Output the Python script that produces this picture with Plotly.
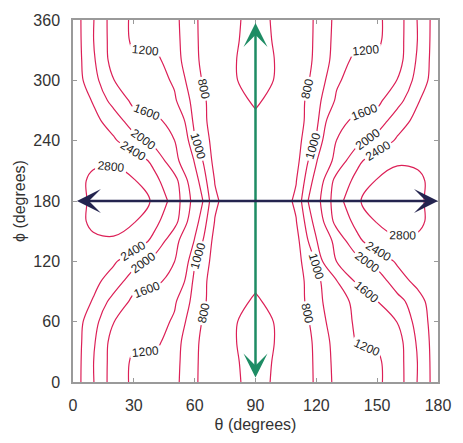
import plotly.graph_objects as go

# Grid nodes of the computed map
theta_nodes = [0, 10, 20, 30, 40, 50, 60, 70, 80, 90, 100, 110, 120, 130, 140,
               150, 160, 170, 180]
phi_nodes = [0, 20, 40, 60, 80, 100, 120, 140, 160, 180, 200, 220, 240, 260,
             280, 300, 320, 340, 360]

# Lower-left block: rows phi = 0..180, columns theta = 0..90
z_lower_left = [
    [2643, 2020, 1402, 1129, 1090, 1058, 815, 720, 742, 950],    # phi = 0
    [2660, 2010, 1416, 1139, 1150, 1070, 818, 715, 755, 980],    # phi = 20
    [2656, 2060, 1430, 1250, 1260, 1089, 827, 700, 785, 1000],   # phi = 40
    [2656, 2144, 1610, 1400, 1300, 1170, 860, 690, 778, 960],    # phi = 60
    [2660, 2371, 1841, 1515, 1380, 1230, 930, 700, 737, 830],    # phi = 80
    [2650, 2500, 2237, 1750, 1700, 1450, 950, 700, 720, 760],    # phi = 100
    [2650, 2620, 2450, 2172, 1859, 1605, 1020, 720, 700, 700],   # phi = 120
    [2620, 2720, 2760, 2600, 2314, 1720, 1180, 730, 680, 660],   # phi = 140
    [2620, 2897, 2920, 2830, 2500, 2150, 1300, 790, 650, 620],   # phi = 160
    [2600, 2890, 2950, 2930, 2767, 2219, 1450, 840, 640, 600],   # phi = 180
]

# Lower-right block: rows phi = 0..180, columns theta = 90..180
z_lower_right = [
    [950, 742, 720, 815, 1058, 1090, 1129, 1402, 2020, 2643],    # phi = 0
    [980, 755, 715, 818, 1070, 1150, 1139, 1416, 2010, 2660],    # phi = 20
    [1000, 785, 700, 827, 1089, 1210, 1250, 1430, 2060, 2656],   # phi = 40
    [960, 778, 690, 860, 1150, 1215, 1400, 1610, 2144, 2656],    # phi = 60
    [830, 737, 700, 930, 1150, 1230, 1595, 1841, 2250, 2660],    # phi = 80
    [760, 720, 700, 950, 1180, 1660, 1750, 2237, 2500, 2650],    # phi = 100
    [700, 700, 720, 1020, 1605, 1859, 2172, 2450, 2620, 2650],   # phi = 120
    [660, 680, 730, 1180, 1720, 2314, 2600, 2760, 2720, 2620],   # phi = 140
    [620, 650, 790, 1300, 2150, 2500, 2830, 2920, 2897, 2620],   # phi = 160
    [600, 640, 840, 1450, 2219, 2767, 2930, 2950, 2890, 2600],   # phi = 180
]

# Contour levels
levels = [800, 1000, 1200, 1600, 2000, 2400, 2800]

x_ticks = [0, 30, 60, 90, 120, 150, 180]
y_ticks = [0, 60, 120, 180, 240, 300, 360]

# Scan directions drawn as double arrows
theta_scan = dict(theta=(1.2, 180), phi=180)
phi_scan = dict(theta=90, phi=(3, 357))

# Assemble the full map: the upper half (phi > 180) is the point reflection
# of the lower-left block through (90, 180)
lower = [l + r[1:] for l, r in zip(z_lower_left, z_lower_right)]
upper = [row + row[-2::-1] for row in z_lower_left[-2::-1]]
z_full = lower + upper

LINE_RED = "#DC2057"
GREEN = "#1E8C64"
NAVY = "#24244F"
FONT = "Liberation Sans, Arial, Helvetica, sans-serif"


def contour_trace(xs, ys, level):
    """One labelled contour level over the node ranges xs (theta) and ys (phi)."""
    return go.Contour(
        x=theta_nodes[xs], y=phi_nodes[ys],
        z=[row[xs] for row in z_full[ys]],
        autocontour=False,
        contours=dict(coloring="lines", showlabels=True,
                      labelfont=dict(size=12, color="#222", family=FONT),
                      labelformat=".0f", start=level, end=level, size=100),
        colorscale=[[0, LINE_RED], [1, LINE_RED]],
        line=dict(width=1.2, smoothing=1),
        showscale=False, hoverinfo="skip",
    )


fig = go.Figure()
# Open levels are drawn per quadrant (the quadrants share their edge nodes)
# so that each line carries a label in every quadrant; the closed 2800
# loops are drawn over the whole map.
half = slice(0, 10), slice(9, 19)
for lv in levels:
    if lv == 2800:
        fig.add_trace(contour_trace(slice(0, 19), slice(0, 19), lv))
        continue
    for xs in half:
        for ys in half:
            fig.add_trace(contour_trace(xs, ys, lv))

arrow_common = dict(xref="x", yref="y", axref="x", ayref="y", text="",
                    showarrow=True, arrowside="end+start",
                    arrowhead=3, startarrowhead=3,
                    arrowsize=1.6, startarrowsize=1.6, arrowwidth=2.5,
                    standoff=0, startstandoff=0)
fig.add_annotation(x=phi_scan["theta"], y=phi_scan["phi"][1],
                   ax=phi_scan["theta"], ay=phi_scan["phi"][0],
                   arrowcolor=GREEN, **arrow_common)
fig.add_annotation(x=theta_scan["theta"][1], y=theta_scan["phi"],
                   ax=theta_scan["theta"][0], ay=theta_scan["phi"],
                   arrowcolor=NAVY, **arrow_common)

axis_common = dict(showgrid=False, zeroline=False, showline=True,
                   linecolor="#9a9a9a", linewidth=1.5, mirror="ticks",
                   ticks="inside", ticklen=4, tickcolor="#9a9a9a",
                   tickfont=dict(family=FONT, size=16, color="#333"),
                   title_font=dict(family=FONT, size=16, color="#333"))
fig.update_xaxes(range=[0, 180], tickvals=x_ticks, title_text="θ (degrees)",
                 title_standoff=6, ticklabelstandoff=8, **axis_common)
fig.update_yaxes(range=[0, 360], tickvals=y_ticks, title_text="ϕ (degrees)",
                 title_standoff=4, ticklabelstandoff=8, **axis_common)

fig.update_layout(width=463, height=443,
                  margin=dict(l=73, r=16, t=16, b=53),
                  paper_bgcolor="white", plot_bgcolor="white",
                  showlegend=False)

fig.write_html("out.html")
